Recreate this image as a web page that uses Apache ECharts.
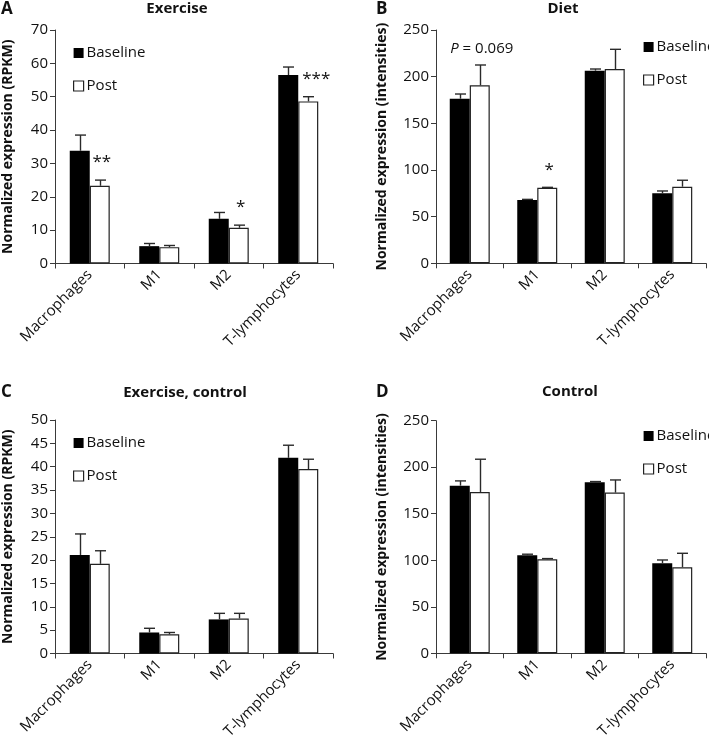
<!DOCTYPE html>
<html>
<head>
<meta charset="utf-8">
<script src="https://cdn.jsdelivr.net/npm/echarts@6/dist/echarts.min.js"></script>
<style>html,body{margin:0;padding:0;background:#fff}#c{width:709px;height:743px}</style>
</head>
<body>
<div id="c"></div>
<script>
const categories = ['Macrophages', 'M1', 'M2', 'T-lymphocytes'];

// Panel A: Exercise (RPKM)
const A_base = [33.8, 5.2, 13.4, 56.5];
const A_baseSE = [4.7, 0.8, 1.9, 2.4];
const A_post = [23.3, 4.9, 10.7, 48.6];
const A_postSE = [1.7, 0.5, 0.8, 1.4];
const A_annot = ['**', '', '*', '***'];

// Panel B: Diet (intensities)
const B_base = [176.4, 67.8, 206.4, 75.0];
const B_baseSE = [5.0, 0.7, 1.8, 2.5];
const B_post = [190.7, 81.0, 208.2, 82.1];
const B_postSE = [21.8, 0.4, 21.1, 6.9];
const B_annot = ['{i|P} = 0.069', '*', '', ''];

// Panel C: Exercise, control (RPKM)
const C_base = [21.1, 4.5, 7.3, 41.9];
const C_baseSE = [4.5, 0.9, 1.3, 2.7];
const C_post = [19.2, 4.1, 7.5, 39.5];
const C_postSE = [2.8, 0.4, 1.1, 2.1];
const C_annot = ['', '', '', ''];

// Panel D: Control (intensities)
const D_base = [180.2, 105.4, 183.9, 96.8];
const D_baseSE = [5.1, 1.1, 0.7, 3.5];
const D_post = [173.4, 101.1, 172.7, 92.5];
const D_postSE = [35.2, 0.7, 13.6, 15.0];
const D_annot = ['', '', '', ''];

const yMax = [70, 250, 50, 250];
const yStep = [10, 50, 5, 50];
const yNames = ['Normalized expression (RPKM)', 'Normalized expression (intensities)',
                'Normalized expression (RPKM)', 'Normalized expression (intensities)'];
const titles = ['Exercise', 'Diet', 'Exercise, control', 'Control'];
const letters = ['A', 'B', 'C', 'D'];

const panels = [
  {base: A_base, baseSE: A_baseSE, post: A_post, postSE: A_postSE, annot: A_annot},
  {base: B_base, baseSE: B_baseSE, post: B_post, postSE: B_postSE, annot: B_annot},
  {base: C_base, baseSE: C_baseSE, post: C_post, postSE: C_postSE, annot: C_annot},
  {base: D_base, baseSE: D_baseSE, post: D_post, postSE: D_postSE, annot: D_annot}
];

// layout (styles / positions)
const FONT = '"Open Sans", "Liberation Sans", sans-serif';
const BAR_W = 20;
const grids = [
  {left: 52, top: 30, width: 281, height: 233.5},
  {left: 436, top: 30, width: 270, height: 233.3},
  {left: 52, top: 420, width: 281, height: 233.5},
  {left: 436, top: 420.7, width: 270, height: 232.6}
];
const nameGaps = [40, 47, 40, 47];
const legendPos = [{left: 68, top: 39}, {left: 638, top: 33}, {left: 68, top: 429}, {left: 638, top: 422}];
const titlePos = [[177, 9], [563, 9], [185, 393], [570, 392]];
const letterPos = [[1, 9], [376, 9], [1, 392], [376, 392]];
const AXIS_COLOR = '#3a3a3a';

function errRender(sign) {
  return function (params, api) {
    const cat = api.value(0), v = api.value(1), e = api.value(2);
    const p0 = api.coord([cat, v]);
    const p1 = api.coord([cat, v + e]);
    const x = Math.round(p0[0] + sign * BAR_W / 2) + 0.5;
    const st = {stroke: '#2a2a2a', lineWidth: 1.4};
    return {type: 'group', children: [
      {type: 'line', shape: {x1: x, y1: p0[1], x2: x, y2: p1[1]}, style: st},
      {type: 'line', shape: {x1: x - 5.5, y1: p1[1], x2: x + 5.5, y2: p1[1]}, style: st}
    ]};
  };
}

function annotRender(texts) {
  return function (params, api) {
    const t = texts[params.dataIndex];
    if (!t) return null;
    const cat = api.value(0), v = api.value(1), e = api.value(2);
    const p1 = api.coord([cat, v + e]);
    const isStar = t.indexOf('*') === 0;
    return {type: 'text', style: {
      x: p1[0] + BAR_W / 2 + (t === '***' ? 8 : 2), y: p1[1] - 9,
      text: t, align: 'center', verticalAlign: 'bottom',
      fontFamily: FONT, fontSize: isStar ? 17 : 15, fill: '#111',
      rich: {i: {fontStyle: 'italic', fontFamily: FONT, fontSize: 15, fill: '#111'}}
    }};
  };
}

const option = {
  animation: false,
  backgroundColor: '#fff',
  grid: grids,
  xAxis: grids.map((g, i) => ({
    type: 'category', gridIndex: i, data: categories,
    axisLine: {lineStyle: {color: AXIS_COLOR, width: 1}},
    axisTick: {show: true, length: 5, lineStyle: {color: AXIS_COLOR}},
    axisLabel: {interval: 0, rotate: 45, margin: 9, fontFamily: FONT, fontSize: 15, color: '#111'}
  })),
  yAxis: grids.map((g, i) => ({
    type: 'value', gridIndex: i, min: 0, max: yMax[i], interval: yStep[i],
    name: yNames[i], nameLocation: 'middle', nameGap: nameGaps[i], nameRotate: 90,
    nameTextStyle: {fontFamily: FONT, fontSize: 14, fontWeight: 'bold', color: '#111'},
    axisLine: {show: true, lineStyle: {color: AXIS_COLOR, width: 1}},
    axisTick: {show: true, length: 5, lineStyle: {color: AXIS_COLOR}},
    splitLine: {show: false},
    axisLabel: {margin: 7, fontFamily: FONT, fontSize: 15, color: '#111'}
  })),
  legend: grids.map((g, i) => ({
    orient: 'vertical', left: legendPos[i].left, top: legendPos[i].top,
    itemWidth: 10, itemHeight: 10, itemGap: 15, icon: 'rect', selectedMode: false,
    textStyle: {fontFamily: FONT, fontSize: 15, color: '#111', lineHeight: 18, padding: [0, 0, 0, -2]},
    data: [
      {name: 'Baseline', itemStyle: {color: '#000', borderColor: '#000', borderWidth: 0}},
      {name: 'Post', itemStyle: {color: '#fff', borderColor: '#222', borderWidth: 1.2}}
    ]
  })),
  graphic: [
    ...titles.map((t, i) => ({type: 'text', silent: true, position: titlePos[i], bounding: 'raw',
      style: {text: t, x: 0, y: 0, align: 'center', verticalAlign: 'middle', fontFamily: FONT, fontSize: 15, fontWeight: 'bold', fill: '#111'}})),
    ...letters.map((t, i) => ({type: 'text', silent: true, position: letterPos[i], bounding: 'raw',
      style: {text: t, x: 0, y: 0, align: 'left', verticalAlign: 'middle', fontFamily: FONT, fontSize: 17, fontWeight: 'bold', fill: '#111'}}))
  ],
  series: []
};

panels.forEach((p, i) => {
  option.series.push({
    name: 'Baseline', type: 'bar', xAxisIndex: i, yAxisIndex: i, barWidth: BAR_W, barGap: '0%',
    itemStyle: {color: '#000', borderColor: '#000', borderWidth: 0},
    data: p.base
  });
  option.series.push({
    name: 'Post', type: 'bar', xAxisIndex: i, yAxisIndex: i, barWidth: BAR_W, barGap: '0%',
    itemStyle: {color: '#fff', borderColor: '#222', borderWidth: 1.2},
    data: p.post
  });
  option.series.push({
    name: 'errBase' + i, type: 'custom', xAxisIndex: i, yAxisIndex: i, z: 5,
    renderItem: errRender(-1),
    data: categories.map((c, k) => [k, p.base[k], p.baseSE[k]])
  });
  option.series.push({
    name: 'errPost' + i, type: 'custom', xAxisIndex: i, yAxisIndex: i, z: 5,
    renderItem: errRender(1),
    data: categories.map((c, k) => [k, p.post[k], p.postSE[k]])
  });
  option.series.push({
    name: 'annot' + i, type: 'custom', xAxisIndex: i, yAxisIndex: i, z: 6,
    renderItem: annotRender(p.annot),
    data: categories.map((c, k) => [k, p.post[k], p.postSE[k]])
  });
});

const chart = echarts.init(document.getElementById('c'), null, {renderer: 'canvas'});
chart.setOption(option);
</script>
</body>
</html>
